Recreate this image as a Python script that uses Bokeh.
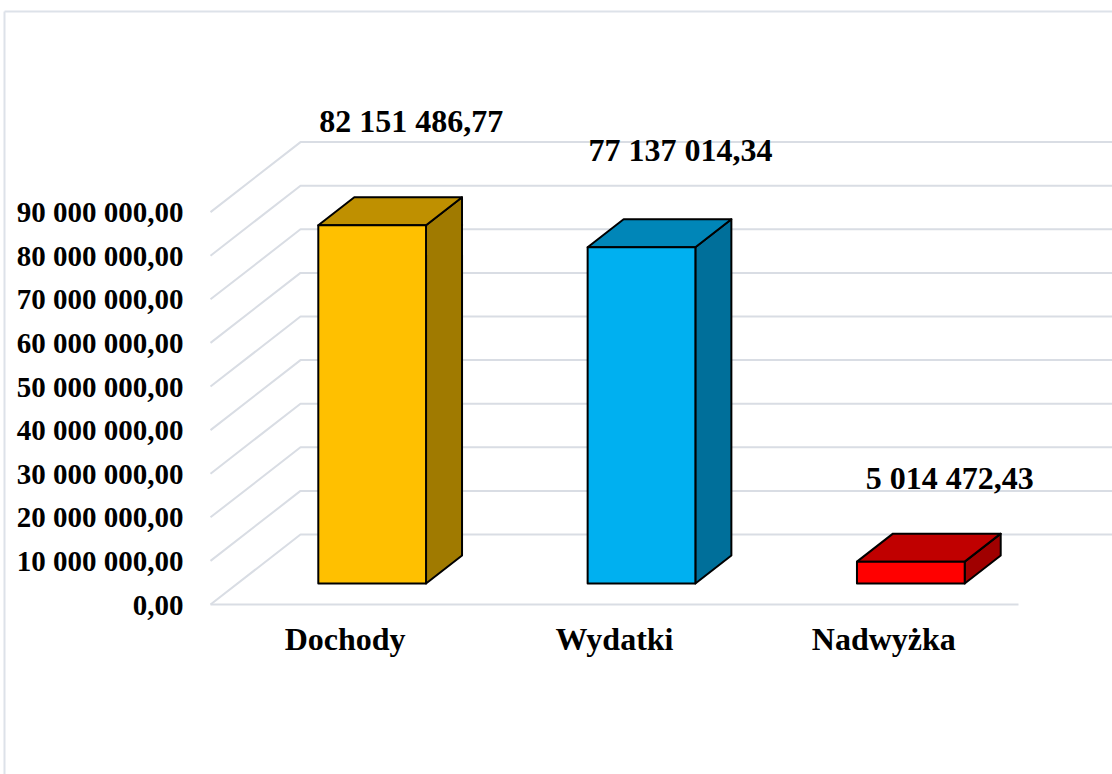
from bokeh.plotting import figure
from bokeh.models import FixedTicker, Range1d, LinearAxis, ColumnDataSource
from bokeh.embed import file_html
from bokeh.resources import INLINE

# ---------------- data ----------------
categories = ["Dochody", "Wydatki", "Nadwyżka"]
amounts = [82151486.77, 77137014.34, 5014472.43]
amount_labels = ["82 151 486,77", "77 137 014,34", "5 014 472,43"]
y_ticks = [0, 10_000_000, 20_000_000, 30_000_000, 40_000_000,
           50_000_000, 60_000_000, 70_000_000, 80_000_000, 90_000_000]
y_tick_labels = ["0,00", "10 000 000,00", "20 000 000,00", "30 000 000,00",
                 "40 000 000,00", "50 000 000,00", "60 000 000,00",
                 "70 000 000,00", "80 000 000,00", "90 000 000,00"]

# ---------------- styles ----------------
front_colors = ["#FFC000", "#00B0F0", "#FF0000"]
top_colors = ["#BF9000", "#0086B8", "#C00000"]
side_colors = ["#A07A00", "#006F9A", "#A00000"]
grid_color = "#D9DDE4"
frame_color = "#DDE2E9"
FONT = "Liberation Serif"

# ---------------- layout (pixels) ----------------
W, H = 1112, 774
X0_PX, X3_PX = 210, 1018      # front floor line, left/right
Y0_PX = 604                   # front floor line, from top
PX_PER_10M = 43.6
DEPTH_DX_PX, DEPTH_DY_PX = 90, 70
label_lift_px = [76, 69, 56]  # Excel-like label lift above bar top

unit_px = (X3_PX - X0_PX) / len(categories)
val_per_px = 1e7 / PX_PER_10M
x_start = -X0_PX / unit_px
x_end = (W - X0_PX) / unit_px
y_start = -(H - Y0_PX) * val_per_px
y_end = Y0_PX * val_per_px
dxd = DEPTH_DX_PX / unit_px
dyd = DEPTH_DY_PX * val_per_px


def px_x(px):
    return (px - X0_PX) / unit_px


def px_y(py):
    return (Y0_PX - py) * val_per_px


p = figure(width=W, height=H, x_range=Range1d(x_start, x_end),
           y_range=Range1d(y_start, y_end), output_backend="svg",
           toolbar_location=None, min_border=0,
           x_axis_location=None, y_axis_location=None)
p.outline_line_color = None
p.background_fill_color = "white"
p.border_fill_color = "white"
p.grid.visible = False

# outer chart-area border (left and top)
p.segment(x0=[px_x(4), px_x(4)], y0=[px_y(11), px_y(11)],
          x1=[px_x(4), px_x(W)], y1=[px_y(H), px_y(11)],
          line_color=frame_color, line_width=2)

# 3D gridlines: front-left edge -> back wall -> right
gx, gy = [], []
for t in y_ticks:
    gx.append([0, dxd, x_end])
    gy.append([t, t + dyd, t + dyd])
p.multi_line(gx, gy, line_color=grid_color, line_width=2)
# floor front edge
p.line([0, len(categories)], [y_ticks[0], y_ticks[0]], line_color=grid_color, line_width=2)

# 3D bars
bw = 0.4
d0, d1 = 0.3, 0.7
fx, fy, tx, ty, sx, sy = [], [], [], [], [], []
for i, v in enumerate(amounts):
    L = i + (1 - bw) / 2 + d0 * dxd
    R = L + bw
    B = d0 * dyd
    T = B + v
    ddx = (d1 - d0) * dxd
    ddy = (d1 - d0) * dyd
    fx.append([L, R, R, L]); fy.append([B, B, T, T])
    tx.append([L, R, R + ddx, L + ddx]); ty.append([T, T, T + ddy, T + ddy])
    sx.append([R, R + ddx, R + ddx, R]); sy.append([B, B + ddy, T + ddy, T])

p.patches(sx, sy, fill_color=side_colors, line_color="black", line_width=2, line_join="round")
p.patches(tx, ty, fill_color=top_colors, line_color="black", line_width=2, line_join="round")
p.patches(fx, fy, fill_color=front_colors, line_color="black", line_width=2, line_join="round")

# data labels
lab_src = ColumnDataSource(dict(
    x=[i + 0.5 + d1 * dxd + 3 / unit_px for i in range(len(amounts))],
    y=[d1 * dyd + v + lift * val_per_px for v, lift in zip(amounts, label_lift_px)],
    text=amount_labels,
))
p.text("x", "y", text="text", source=lab_src, text_align="center",
       text_baseline="middle", text_font={"value": FONT},
       text_font_style="bold", text_font_size="32px", text_color="black")

# axes
yaxis = LinearAxis(fixed_location=0, ticker=FixedTicker(ticks=y_ticks),
                   major_label_overrides=dict(zip(y_ticks, y_tick_labels)))
xaxis = LinearAxis(fixed_location=0,
                   ticker=FixedTicker(ticks=[i + 0.5 for i in range(len(categories))]),
                   major_label_overrides={i + 0.5: c for i, c in enumerate(categories)})
for ax, size, standoff in ((yaxis, "29px", 27), (xaxis, "32px", 16)):
    ax.axis_line_color = None
    ax.major_tick_line_color = None
    ax.minor_tick_line_color = None
    ax.major_tick_in = 0
    ax.major_tick_out = 0
    ax.minor_tick_in = 0
    ax.minor_tick_out = 0
    ax.major_label_standoff = standoff
    ax.major_label_text_font = FONT
    ax.major_label_text_font_style = "bold"
    ax.major_label_text_font_size = size
    ax.major_label_text_color = "black"
p.add_layout(yaxis, "left")
p.add_layout(xaxis, "below")

open("out.html", "w").write(file_html(p, INLINE))
